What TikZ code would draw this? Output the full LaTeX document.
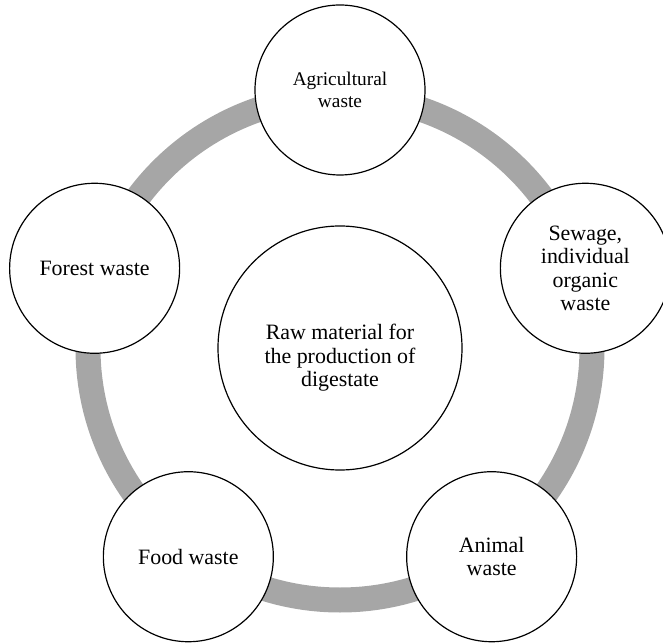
\documentclass[tikz,border=0pt]{standalone}
\usepackage{fontspec}
\setmainfont{Liberation Serif}
\usepackage{tikz}
\usetikzlibrary{calc}
\definecolor{ringgray}{RGB}{166,166,166}
\def\rring{252}
\def\rnode{258}

\begin{document}
\begin{tikzpicture}
    [
        x=1bp, y=1bp,
        ring/.style={ringgray, line width=25bp},
        waste/.style={circle, draw=black, line width=1.2pt, fill=white, inner sep=0pt,
            minimum size=170bp, align=center, font=\fontsize{22}{23.5}\selectfont},
        smallwaste/.style={waste, font=\fontsize{19.4}{21.5}\selectfont},
        hub/.style={waste, minimum size=244bp},
        hubtext/.style={align=center, inner sep=0pt, font=\fontsize{22}{23.5}\selectfont}
    ]
%    \draw[style=help lines,step=50] (-340,-295) grid (323,348);
    \coordinate (origin) at (0,0);
    \draw[ring] (origin) circle (\rring);

    \node[hub] (raw) at (origin) {};
    \node[hubtext] (rawtext) at ([yshift=-10]raw.center) {Raw material for\\the production of\\digestate};

    \node[smallwaste] (agri) at (90:\rnode) {Agricultural\\waste};
    \foreach \ang/\name/\txt in {18/sewage/{Sewage,\\individual\\organic\\waste},
        -54/animal/{Animal\\waste},
        -126/food/{Food waste},
        162/forest/{Forest waste}}
    {
        \node[waste] (\name) at (\ang:\rnode) {\txt};
    }

    \pgfresetboundingbox
    \useasboundingbox (-340,-295) rectangle (323,348);
\end{tikzpicture}
\end{document}
